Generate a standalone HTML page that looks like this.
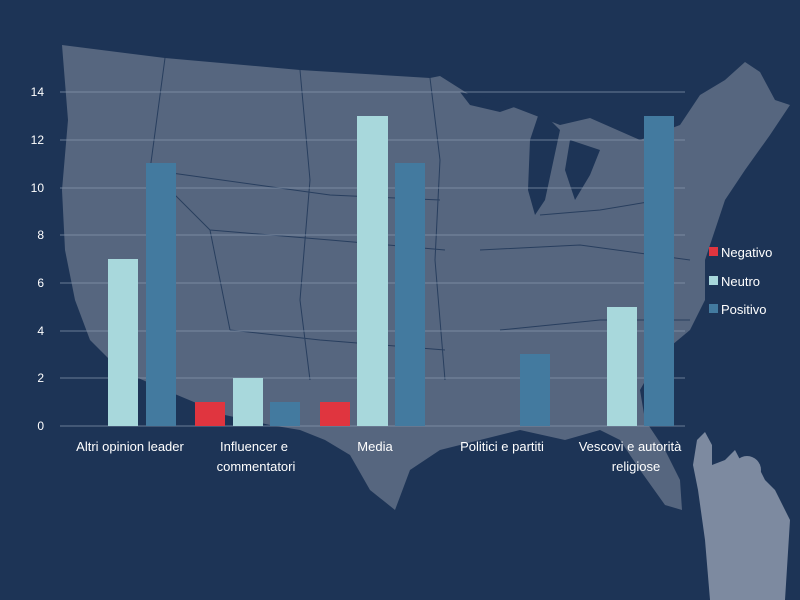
<!DOCTYPE html>
<html><head><meta charset="utf-8"><style>
body{margin:0;width:800px;height:600px;background:#1d3456;overflow:hidden;font-family:"Liberation Sans",sans-serif}
svg{display:block}
text{fill:#fff;font-family:"Liberation Sans",sans-serif}
</style></head><body>
<svg width="800" height="600" viewBox="0 0 800 600">
<rect width="800" height="600" fill="#1d3456"/>
<path fill="#56667f" d="M62,45 L165,58 L300,70 L430,78 L440,76 L470,95 L495,100 L560,125 L590,118 L640,140 L680,125 L700,95 L725,80 L745,62 L760,72 L775,100 L790,105 L770,135 L745,170 L725,200 L715,230 L705,260 L705,300 L690,330 L660,355 L640,390 L645,420 L665,450 L680,480 L682,510 L665,505 L640,470 L620,440 L600,430 L565,440 L520,430 L480,440 L440,450 L410,470 L395,510 L370,490 L350,455 L325,440 L300,430 L270,425 L225,415 L170,392 L120,370 L90,340 L75,300 L65,250 L62,190 L68,120 Z"/>
<path fill="#1d3456" d="M540,110 L560,130 L545,200 L535,215 L528,190 L530,140 Z M570,140 L600,150 L590,175 L575,200 L565,170 Z M460,92 L520,105 L500,112 L470,105 Z"/>
<g stroke="#1d3456" stroke-width="1" fill="none" opacity="0.8">
<path d="M165,58 L150,170 L210,230 L230,330 M300,70 L310,180 L300,300 L310,380 M430,78 L440,160 L435,260 L445,380 M150,170 L330,195 L440,200 M210,230 L330,240 L445,250 M230,330 L320,340 L445,350 M540,215 L600,210 L660,200 M480,250 L580,245 L690,260 M500,330 L600,320 L690,320"/>
</g>
<g stroke="#8a9ab0" stroke-width="1" opacity="0.7">
<line x1="60" y1="92" x2="685" y2="92"/><line x1="60" y1="140" x2="685" y2="140"/><line x1="60" y1="188" x2="685" y2="188"/><line x1="60" y1="235" x2="685" y2="235"/><line x1="60" y1="283" x2="685" y2="283"/><line x1="60" y1="331" x2="685" y2="331"/><line x1="60" y1="378" x2="685" y2="378"/><line x1="60" y1="426" x2="685" y2="426"/>
</g>
<g font-size="12" text-anchor="end">
<text x="44" y="96">14</text><text x="44" y="144">12</text><text x="44" y="192">10</text><text x="44" y="239">8</text><text x="44" y="287">6</text><text x="44" y="335">4</text><text x="44" y="382">2</text><text x="44" y="430">0</text>
</g>
<g fill="#a8d8dc">
<rect x="108" y="259" width="30" height="167"/><rect x="233" y="378" width="30" height="48"/><rect x="357" y="116" width="31" height="310"/><rect x="607" y="307" width="30" height="119"/>
</g>
<g fill="#437a9f">
<rect x="146" y="163" width="30" height="263"/><rect x="270" y="402" width="30" height="24"/><rect x="395" y="163" width="30" height="263"/><rect x="520" y="354" width="30" height="72"/><rect x="644" y="116" width="30" height="310"/>
</g>
<g fill="#e0353f">
<rect x="195" y="402" width="30" height="24"/><rect x="320" y="402" width="30" height="24"/>
</g>
<g font-size="13" text-anchor="middle">
<text x="130" y="451">Altri opinion leader</text>
<text x="254" y="451">Influencer e</text><text x="256" y="471">commentatori</text>
<text x="375" y="451">Media</text>
<text x="502" y="451">Politici e partiti</text>
<text x="630" y="451">Vescovi e autorità</text><text x="636" y="471">religiose</text>
</g>
<rect x="709" y="247" width="9" height="9" fill="#e0353f"/><text x="721" y="257" font-size="13">Negativo</text>
<rect x="709" y="276" width="9" height="9" fill="#a8d8dc"/><text x="721" y="286" font-size="13">Neutro</text>
<rect x="709" y="304" width="9" height="9" fill="#437a9f"/><text x="721" y="314" font-size="13">Positivo</text>
<g fill="#7d8aa0">
<path d="M697,440 L705,432 L712,445 L712,465 L725,460 L735,450 L748,475 L760,470 L765,480 L775,490 L790,520 L785,600 L710,600 L705,540 L698,490 L693,465 Z"/>
<circle cx="747" cy="470" r="14"/>
</g>
</svg>
</body></html>
